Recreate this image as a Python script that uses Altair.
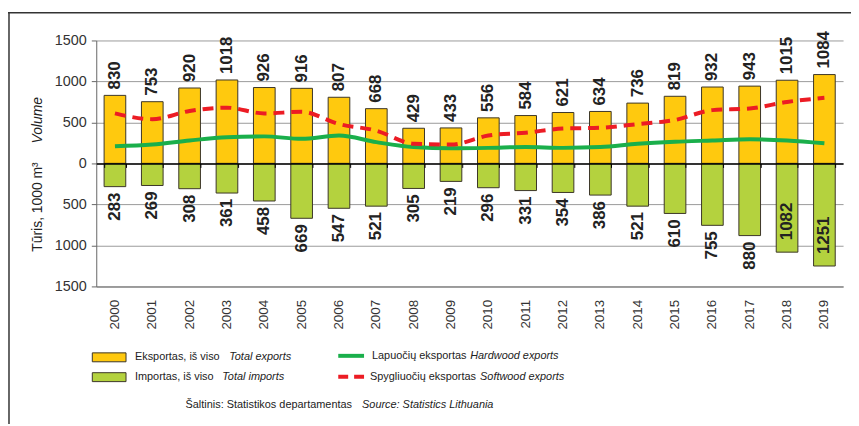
import altair as alt
import pandas as pd

years = ["2000", "2001", "2002", "2003", "2004", "2005", "2006", "2007", "2008", "2009",
         "2010", "2011", "2012", "2013", "2014", "2015", "2016", "2017", "2018", "2019"]
exports = [830, 753, 920, 1018, 926, 916, 807, 668, 429, 433,
           556, 584, 621, 634, 736, 819, 932, 943, 1015, 1084]
imports = [283, 269, 308, 361, 458, 669, 547, 521, 305, 219,
           296, 331, 354, 386, 521, 610, 755, 880, 1082, 1251]
hardwood = [210, 230, 280, 320, 330, 300, 340, 260, 200, 185,
            190, 200, 190, 200, 240, 265, 280, 295, 280, 245]
softwood = [610, 540, 640, 680, 610, 630, 480, 400, 240, 230,
            340, 375, 425, 435, 480, 530, 650, 670, 750, 800]
y_ticks = [-1500, -1000, -500, 0, 500, 1000, 1500]

df = pd.DataFrame(dict(year=years, exports=exports, imports=imports,
                       hardwood=hardwood, softwood=softwood))

SANS = "Liberation Sans, Arial, sans-serif"
YELLOW = "#ffc90e"
LGREEN = "#b4d23e"
GREEN = "#1aaf4b"
RED = "#ec1c24"
EDGE = "#3b3527"

xscale = alt.Scale(paddingInner=0.42, paddingOuter=0.21)
yscale = alt.Scale(domain=[-1500, 1500], nice=False)

base = alt.Chart(df)

x_main = alt.X("year:N", sort=years, scale=xscale, title=None,
               axis=alt.Axis(orient="bottom", labelAngle=-90, labelPadding=13, ticks=False,
                             domainColor="#8c8c8c", domainWidth=1.5, labelColor="#333",
                             labelFont=SANS, labelFontSize=13.5, grid=False))
x_zero = alt.X("year:N", sort=years, title=None,
               axis=alt.Axis(orient="bottom", offset=-124, labels=False, domainColor="black",
                             domainWidth=1.5, ticks=True, tickBand="extent", tickSize=4,
                             tickColor="black", tickWidth=1, grid=False, zindex=1))
x_none = alt.X("year:N", sort=years, title=None, axis=None)

y_axis = alt.Axis(values=y_ticks, labelExpr="abs(datum.value)", grid=True,
                  gridColor="#9a9a9a", gridWidth=1, domainColor="#666",
                  tickColor="#666", tickSize=5, labelPadding=5, labelFont=SANS,
                  labelFontSize=14.5, labelColor="#333", orient="left")


def Y(field):
    return alt.Y(field, scale=yscale, title=None, axis=y_axis)


exp_bars = base.mark_bar(color=YELLOW, stroke=EDGE, strokeWidth=1).encode(
    x=x_main, y=Y("exports:Q"))
imp_bars = base.transform_calculate(neg="-datum.imports").mark_bar(
    color=LGREEN, stroke=EDGE, strokeWidth=1).encode(x=x_none, y=Y("neg:Q"))

hard_line = base.mark_line(color=GREEN, strokeWidth=4, interpolate="monotone").encode(
    x=x_none, y=Y("hardwood:Q"))
soft_line = base.mark_line(color=RED, strokeWidth=4, strokeDash=[11, 7],
                           interpolate="monotone").encode(x=x_none, y=Y("softwood:Q"))

lbl = dict(angle=270, baseline="middle", font=SANS, fontWeight="bold", fontSize=17, color="#222")
exp_lbl = base.mark_text(align="left", dx=6, **lbl).encode(
    x=x_zero, y=Y("exports:Q"), text="exports:Q")
imp_lbl = base.transform_filter("datum.imports <= 1000").transform_calculate(
    neg="-datum.imports").mark_text(align="right", dx=-6, **lbl).encode(
    x=x_none, y=Y("neg:Q"), text="imports:Q")
imp_lbl_in = base.transform_filter("datum.imports > 1000").transform_calculate(
    neg="-datum.imports").mark_text(align="left", dx=12, **lbl).encode(
    x=x_none, y=Y("neg:Q"), text="imports:Q")

one = alt.Chart(pd.DataFrame({"k": [0]}))


def txt(s, x, y, italic=False, size=11, align="left", angle=None):
    kw = dict(text=s, align=align, baseline="middle", font=SANS, fontSize=size, color="#222")
    if italic:
        kw["fontStyle"] = "italic"
    if angle is not None:
        kw["angle"] = angle
    return one.mark_text(**kw).encode(x=alt.value(x), y=alt.value(y))


def box(color, y0, y1):
    return one.mark_rect(color=color, stroke=EDGE, strokeWidth=1).encode(
        x=alt.value(-4), x2=alt.value(30), y=alt.value(y0), y2=alt.value(y1))


legend = [
    box(YELLOW, 315, 324),
    box(LGREEN, 335, 344),
    txt("Eksportas, iš viso", 39, 319),
    txt("Total exports", 134, 319, italic=True),
    txt("Importas, iš viso", 39, 339),
    txt("Total imports", 127, 339, italic=True),
    one.mark_rule(color=GREEN, strokeWidth=4).encode(
        x=alt.value(244), x2=alt.value(270), y=alt.value(318)),
    one.mark_rule(color=RED, strokeWidth=4, strokeDash=[10, 6]).encode(
        x=alt.value(244), x2=alt.value(270), y=alt.value(339)),
    txt("Lapuočių eksportas", 278, 318),
    txt("Hardwood exports", 377, 318, italic=True),
    txt("Spygliuočių eksportas", 276, 339),
    txt("Softwood exports", 387, 339, italic=True),
    txt("Šaltinis: Statistikos departamentas", 90, 368),
    txt("Source: Statistics Lithuania", 268, 368, italic=True),
    txt("Tūris, 1000 m³", -59, 213, size=14, angle=270),
    txt("Volume", -59, 104, italic=True, size=14, angle=270),
    one.mark_rule(color="#666", strokeWidth=2).encode(
        x=alt.value(-88), y=alt.value(-28), y2=alt.value(390)),
    one.mark_rule(color="#333", strokeWidth=1.5).encode(
        x=alt.value(-89), x2=alt.value(765), y=alt.value(-28)),
]

chart = alt.layer(
    exp_bars, imp_bars, hard_line, soft_line, exp_lbl, imp_lbl, imp_lbl_in, *legend
).resolve_axis(x="independent").properties(
    width=753, height=248,
    autosize=alt.AutoSizeParams(type="none"),
    padding={"left": 89, "top": 31, "right": 8, "bottom": 137},
).configure_view(stroke=None)

chart.save("out.html", embed_options={"renderer": "svg", "actions": False})
